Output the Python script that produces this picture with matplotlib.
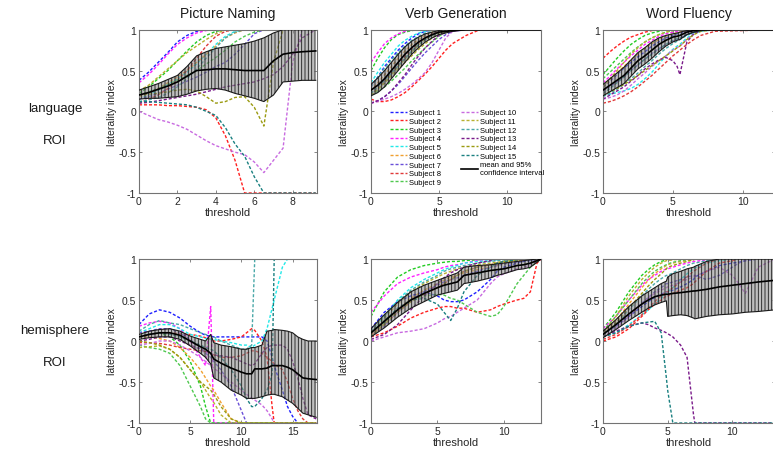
import matplotlib
matplotlib.use("Agg")
import matplotlib.pyplot as plt
from matplotlib.lines import Line2D

plt.rcParams['font.family'] = ['Liberation Sans', 'DejaVu Sans']
plt.rcParams['hatch.linewidth'] = 0.6

SUBJECT_LABELS = ["Subject %d" % i for i in range(1, 16)]
SUBJECT_COLORS = ["#1f1fff", "#ff2020", "#22cc22", "#ff22ff", "#22e8e8", "#f0a030",
                  "#6a4fd8", "#e03a3a", "#4fc84f", "#c86ae0", "#b8b030", "#4aa8a8",
                  "#7a1a8a", "#9a9a10", "#1a8080"]
TASKS = ["Picture Naming", "Verb Generation", "Word Fluency"]
ROWS = ["language\n\nROI", "hemisphere\n\nROI"]
Y_TICKS = [-1, -0.5, 0, 0.5, 1]
Y_TICKLABELS = ["-1", "-0.5", "0", "0.5", "1"]

# ---------------- Picture Naming, language ROI ----------------
PN_LANG_X = [0, .5, 1, 1.5, 2, 2.5, 3, 3.5, 4, 4.5, 5, 5.5, 6, 6.5, 7, 7.5, 8, 8.5, 9.2]
PN_LANG_SUBJ = [
    [.38, .48, .60, .72, .85, .93, .98, 1, 1, 1, 1, 1, 1, 1, 1, 1, 1, 1, 1],
    [.08, .08, .08, .07, .07, .06, .05, .02, -.08, -.30, -.60, -1, -1, -1, -1, -1, -1, -1, -1],
    [.22, .30, .40, .50, .62, .74, .85, .93, .98, 1, 1, 1, 1, 1, 1, 1, 1, 1, 1],
    [.35, .45, .57, .70, .82, .90, .96, .99, 1, 1, 1, 1, 1, 1, 1, 1, 1, 1, 1],
    [.15, .20, .26, .33, .40, .48, .58, .70, .82, .92, .98, 1, 1, 1, 1, 1, 1, 1, 1],
    [.18, .22, .28, .35, .42, .50, .60, .70, .80, .90, .96, 1, 1, 1, 1, 1, 1, 1, 1],
    [.15, .18, .22, .27, .32, .37, .42, .48, .55, .60, .70, .82, .95, 1, 1, 1, 1, 1, 1],
    [.10, .15, .20, .28, .38, .50, .65, .80, .92, .98, 1, 1, 1, 1, 1, 1, 1, 1, 1],
    [.20, .24, .28, .33, .38, .44, .50, .58, .66, .75, .85, .92, .97, 1, 1, 1, 1, 1, 1],
    [.00, -.05, -.10, -.13, -.17, -.22, -.29, -.36, -.42, -.46, -.50, -.53, -.62, -.75, -.60, -.45, .60, 1, 1],
    [.25, .32, .42, .52, .62, .72, .80, .88, .95, 1, 1, 1, 1, 1, 1, 1, 1, 1, 1],
    [.12, .14, .17, .22, .30, .40, .52, .65, .78, .90, .97, 1, 1, 1, 1, 1, 1, 1, 1],
    [.10, .11, .13, .15, .17, .19, .21, .24, .27, .30, .32, .34, .36, .40, .45, .55, .70, .90, 1],
    [.20, .21, .22, .24, .26, .27, .25, .18, .10, .12, .17, .18, .05, -.18, .60, 1, 1, 1, 1],
    [.12, .12, .11, .10, .09, .08, .05, .00, -.05, -.20, -.40, -.55, -.80, -1, -1, -1, -1, -1, -1],
]
PN_LANG_MEAN = [.20, .23, .27, .31, .36, .43, .50, .51, .52, .52, .51, .50, .50, .50, .62, .70, .72, .73, .74]
PN_LANG_HI = [.26, .30, .34, .39, .44, .55, .68, .73, .77, .79, .81, .83, .86, .90, .96, 1, 1, 1, 1]
PN_LANG_LO = [.15, .16, .16, .17, .18, .21, .25, .27, .28, .26, .22, .19, .16, .12, .20, .36, .37, .38, .38]

# ---------------- Picture Naming, hemisphere ROI ----------------
PN_HEMI_X = [0, 1, 2, 3, 4, 5, 6, 6.5, 7, 7.3, 8, 9, 10, 10.5, 11, 11.3, 12, 12.5, 13, 13.2,
             14, 14.5, 15, 15.5, 16, 16.5, 17.3]
PN_HEMI_SUBJ = [
    [.20, .33, .38, .35, .28, .18, .10, .07, .06, .05, .05, .05, .05, .05, .05, .05, .05, .00, -.20, -.30, -.60, -.80, -.92, -1, -1, -1, -1],
    [.05, .08, .10, .10, .09, .08, .06, .04, .02, .00, .00, .02, .05, .10, .15, .13, .00, -.20, -.80, -1, -1, -1, -1, -1, -1, -1, -1],
    [.05, .08, .10, .05, -.05, -.25, -.55, -.80, -1, -1, -1, -1, -1, -1, -1, -1, -1, -1, -1, -1, -1, -1, -1, -1, -1, -1, -1],
    [.18, .22, .24, .22, .15, .00, -.20, -.30, .42, -1, -1, -1, -1, -1, -1, -1, -1, -1, -1, -1, -1, -1, -1, -1, -1, -1, -1],
    [.10, .15, .20, .20, .15, .08, .05, .03, .02, .02, .00, -.02, -.05, -.05, -.08, -.05, .00, .15, .40, .50, .90, 1, 1, 1, 1, 1, 1],
    [.05, .05, .03, .00, -.08, -.20, -.35, -.45, -.55, -.60, -.75, -.95, -1, -1, -1, -1, -1, -1, -1, -1, -1, -1, -1, -1, -1, -1, -1],
    [.10, .12, .15, .15, .10, .02, -.10, -.15, -.20, -.25, -.35, -.55, -.85, -1, -1, -1, -1, -1, -1, -1, -1, -1, -1, -1, -1, -1, -1],
    [-.02, -.02, -.03, -.05, -.08, -.10, -.12, -.13, -.15, -.17, -.20, -.20, -.18, -.15, -.12, -.12, -.15, -.20, -.25, -.28, -.35, -.50, -.70, -.85, -.95, -1, -1],
    [-.05, -.08, -.10, -.15, -.30, -.55, -.80, -.95, -1, -1, -1, -1, -1, -1, -1, -1, -1, -1, -1, -1, -1, -1, -1, -1, -1, -1, -1],
    [-.05, -.03, .00, .00, -.05, -.12, -.20, -.25, -.30, -.33, -.40, -.50, -.60, -.65, -.70, -.72, -.78, -.85, -.95, -1, -1, -1, -1, -1, -1, -1, -1],
    [-.08, -.07, -.06, -.10, -.20, -.35, -.50, -.60, -.70, -.75, -.90, -1, -1, -1, -1, -1, -1, -1, -1, -1, -1, -1, -1, -1, -1, -1, -1],
    [.12, .20, .25, .22, .20, .15, .10, .08, .06, .05, .00, -.05, -.10, -.10, -.05, 1, 1, 1, 1, 1, 1, 1, 1, 1, 1, 1, 1],
    [.00, .02, .05, .05, .00, -.05, -.10, -.12, -.15, -.17, -.18, -.20, -.25, -.28, -.30, -.28, -.15, -.08, -.05, -.05, -.05, -.10, -.25, -.45, -.70, -.90, -.95],
    [.00, -.02, -.05, -.10, -.20, -.35, -.50, -.55, -.60, -.65, -.80, -.95, -1, -1, -1, -1, -1, -1, -1, -1, -1, -1, -1, -1, -1, -1, -1],
    [.05, .08, .10, .08, .05, .00, -.05, -.08, -.10, -.12, -.20, -.35, -.55, -.70, -.80, -.80, -.70, -.60, -.40, 1, 1, 1, 1, 1, 1, 1, 1],
]
PN_HEMI_MEAN = [.05, .08, .10, .10, .07, .00, -.07, -.10, -.15, -.22, -.27, -.33, -.38, -.40, -.40, -.34, -.34, -.33, -.30, -.30, -.30, -.32, -.35, -.40, -.45, -.46, -.47]
PN_HEMI_HI = [.08, .12, .14, .15, .12, .06, .02, .00, .08, -.02, -.05, -.07, -.10, -.10, -.08, -.08, -.05, .12, .13, .14, .13, .12, .10, .05, .02, .00, .00]
PN_HEMI_LO = [.02, .04, .05, .05, .02, -.06, -.15, -.20, -.28, -.45, -.50, -.60, -.66, -.70, -.70, -.70, -.68, -.66, -.65, -.65, -.68, -.72, -.76, -.82, -.88, -.90, -.93]

# ---------------- Verb Generation, language ROI ----------------
VG_LANG_X = [0, .5, 1, 1.5, 2, 2.5, 3, 3.5, 4, 4.5, 5, 5.5, 6, 7, 8, 12.5]
VG_LANG_SUBJ = [
    [.30, .42, .55, .65, .75, .83, .90, .95, .98, 1, 1, 1, 1, 1, 1, 1],
    [.15, .12, .12, .14, .18, .23, .30, .38, .46, .55, .65, .75, .83, .93, 1, 1],
    [.50, .65, .78, .88, .94, .97, .99, 1, 1, 1, 1, 1, 1, 1, 1, 1],
    [.60, .72, .83, .90, .95, .98, 1, 1, 1, 1, 1, 1, 1, 1, 1, 1],
    [.35, .48, .60, .70, .80, .87, .92, .96, .98, 1, 1, 1, 1, 1, 1, 1],
    [.25, .35, .45, .55, .65, .74, .82, .88, .93, .97, 1, 1, 1, 1, 1, 1],
    [.10, .13, .18, .25, .33, .43, .53, .63, .72, .80, .88, .94, .98, 1, 1, 1],
    [.20, .28, .37, .47, .57, .67, .76, .84, .90, .95, .98, 1, 1, 1, 1, 1],
    [.20, .25, .30, .37, .45, .53, .62, .70, .78, .85, .92, .97, 1, 1, 1, 1],
    [.10, .12, .15, .18, .22, .27, .33, .40, .48, .60, .75, .90, .98, 1, 1, 1],
    [.20, .27, .35, .43, .52, .60, .68, .76, .83, .90, .95, .98, 1, 1, 1, 1],
    [.30, .42, .53, .63, .72, .80, .87, .92, .96, .98, 1, 1, 1, 1, 1, 1],
    [.10, .13, .18, .25, .35, .45, .57, .68, .78, .86, .93, .97, 1, 1, 1, 1],
    [.20, .27, .35, .45, .55, .64, .73, .81, .88, .93, .97, 1, 1, 1, 1, 1],
    [.22, .30, .38, .47, .56, .65, .74, .82, .88, .93, .97, 1, 1, 1, 1, 1],
]
VG_LANG_MEAN = [.26, .32, .40, .50, .60, .70, .78, .85, .90, .94, .97, .98, .99, 1, 1, 1]
VG_LANG_HI = [.33, .41, .50, .60, .70, .79, .86, .91, .95, .97, .99, 1, 1, 1, 1, 1]
VG_LANG_LO = [.19, .23, .30, .40, .50, .60, .70, .78, .85, .90, .94, .96, .98, 1, 1, 1]

# ---------------- Verb Generation, hemisphere ROI ----------------
VG_HEMI_X = [0, 1, 2, 3, 4, 5, 5.5, 6, 6.5, 7, 8, 9, 9.5, 10, 11, 11.5, 12, 12.5, 12.8]
VG_HEMI_SUBJ = [
    [.15, .35, .48, .55, .60, .55, .50, .48, .48, .50, .60, .75, .85, .90, .95, .97, .98, 1, 1],
    [.05, .10, .18, .28, .35, .40, .42, .42, .40, .40, .35, .38, .42, .45, .50, .52, .60, .95, 1],
    [.30, .60, .78, .87, .92, .95, .96, .97, .97, .98, .99, 1, 1, 1, 1, 1, 1, 1, 1],
    [.35, .55, .70, .78, .83, .87, .90, .92, .93, .95, .98, 1, 1, 1, 1, 1, 1, 1, 1],
    [.10, .30, .50, .65, .75, .83, .87, .90, .92, .95, .97, .98, .99, 1, 1, 1, 1, 1, 1],
    [.08, .22, .38, .52, .62, .70, .74, .78, .80, .83, .87, .90, .92, .95, .98, 1, 1, 1, 1],
    [.05, .18, .35, .50, .60, .68, .72, .75, .77, .80, .85, .90, .92, .94, .96, .98, .99, 1, 1],
    [.08, .20, .35, .48, .57, .65, .70, .75, .80, .85, .90, .93, .95, .97, .98, .99, 1, 1, 1],
    [.10, .22, .38, .50, .55, .57, .56, .52, .50, .45, .35, .30, .32, .42, .70, .80, .90, .97, 1],
    [.00, .05, .10, .12, .15, .22, .27, .30, .35, .40, .50, .70, .78, .82, .88, .90, .93, .97, 1],
    [.10, .28, .45, .60, .70, .78, .82, .85, .88, .90, .93, .95, .96, .97, .99, 1, 1, 1, 1],
    [.12, .30, .48, .62, .72, .80, .85, .88, .90, .92, .95, .97, .98, .99, 1, 1, 1, 1, 1],
    [.02, .08, .20, .38, .55, .70, .77, .83, .87, .90, .95, .98, 1, 1, 1, 1, 1, 1, 1],
    [.06, .20, .35, .48, .58, .65, .70, .75, .80, .85, .90, .93, .95, .96, .98, 1, 1, 1, 1],
    [.10, .25, .40, .50, .52, .45, .35, .25, .40, .60, .80, .90, .95, .97, .99, 1, 1, 1, 1],
]
VG_HEMI_MEAN = [.10, .24, .38, .50, .58, .65, .68, .70, .72, .80, .83, .86, .87, .88, .92, .93, .95, .98, 1]
VG_HEMI_HI = [.15, .32, .47, .60, .68, .74, .77, .80, .83, .90, .92, .93, .94, .95, .97, .98, .99, 1, 1]
VG_HEMI_LO = [.05, .16, .29, .40, .48, .56, .58, .60, .62, .70, .73, .77, .80, .82, .87, .88, .90, .96, 1]

# ---------------- Word Fluency, language ROI ----------------
WF_LANG_X = [0, .5, 1, 1.5, 2, 2.5, 3, 3.5, 4, 4.5, 5, 5.3, 5.5, 6, 6.5, 7, 8, 12.3]
WF_LANG_SUBJ = [
    [.30, .37, .45, .53, .60, .67, .73, .80, .85, .90, .93, .95, .96, .98, .99, 1, 1, 1],
    [.65, .73, .80, .86, .91, .94, .97, .99, 1, 1, 1, 1, 1, 1, 1, 1, 1, 1],
    [.45, .55, .65, .74, .82, .88, .93, .96, .98, 1, 1, 1, 1, 1, 1, 1, 1, 1],
    [.35, .43, .52, .60, .68, .75, .82, .87, .92, .95, .97, .98, .99, 1, 1, 1, 1, 1],
    [.20, .21, .23, .25, .28, .33, .40, .48, .58, .68, .76, .80, .82, .90, .95, .98, 1, 1],
    [.30, .38, .47, .55, .63, .70, .77, .83, .88, .92, .95, .96, .97, .99, 1, 1, 1, 1],
    [.25, .30, .36, .42, .50, .57, .64, .71, .77, .82, .86, .88, .90, .94, .97, .99, 1, 1],
    [.10, .12, .15, .19, .24, .30, .37, .44, .52, .60, .68, .72, .75, .82, .88, .93, .98, 1],
    [.40, .48, .56, .64, .72, .79, .85, .90, .94, .97, .99, 1, 1, 1, 1, 1, 1, 1],
    [.15, .17, .20, .25, .32, .40, .47, .55, .62, .68, .75, .78, .80, .88, .95, .99, 1, 1],
    [.30, .40, .50, .60, .70, .78, .85, .90, .94, .97, .99, 1, 1, 1, 1, 1, 1, 1],
    [.18, .22, .27, .33, .40, .47, .55, .62, .70, .77, .83, .86, .88, .93, .97, .99, 1, 1],
    [.15, .20, .25, .30, .37, .44, .52, .58, .63, .66, .62, .55, .45, .85, .95, .99, 1, 1],
    [.20, .24, .28, .33, .38, .44, .50, .56, .62, .68, .74, .78, .80, .88, .94, .98, 1, 1],
    [.22, .28, .35, .42, .50, .57, .64, .70, .76, .82, .87, .89, .90, .94, .97, .99, 1, 1],
]
WF_LANG_MEAN = [.26, .32, .38, .44, .53, .62, .68, .75, .82, .87, .91, .92, .93, .97, .99, 1, 1, 1]
WF_LANG_HI = [.33, .40, .47, .54, .63, .72, .78, .85, .90, .93, .95, .96, .97, .99, 1, 1, 1, 1]
WF_LANG_LO = [.19, .24, .29, .34, .43, .52, .58, .65, .73, .80, .85, .87, .88, .94, .97, .99, 1, 1]

# ---------------- Word Fluency, hemisphere ROI ----------------
WF_HEMI_X = [0, 1, 2, 3, 3.5, 4, 4.5, 4.9, 5, 5.4, 6, 6.5, 7, 7.1, 8, 9, 10, 10.5, 11, 12, 13.3]
WF_HEMI_SUBJ = [
    [.10, .18, .30, .42, .48, .53, .57, .60, .60, .62, .66, .70, .75, .78, .85, .92, .95, .96, .98, 1, 1],
    [.00, .05, .15, .30, .38, .45, .50, .55, .55, .58, .62, .65, .70, .72, .85, .95, .98, 1, 1, 1, 1],
    [.15, .35, .60, .80, .87, .93, .97, .99, 1, 1, 1, 1, 1, 1, 1, 1, 1, 1, 1, 1, 1],
    [.15, .30, .50, .68, .75, .80, .85, .88, .88, .90, .93, .95, .97, .97, .99, 1, 1, 1, 1, 1, 1],
    [.05, .10, .20, .32, .38, .45, .52, .58, .60, .65, .75, .82, .88, .89, .95, .98, 1, 1, 1, 1, 1],
    [.10, .25, .45, .65, .74, .82, .88, .92, .93, .95, .97, .98, .99, 1, 1, 1, 1, 1, 1, 1, 1],
    [.08, .18, .32, .46, .53, .60, .65, .70, .70, .72, .75, .78, .80, .80, .75, .80, .90, .95, .98, 1, 1],
    [.02, .08, .18, .32, .40, .48, .55, .60, .60, .65, .72, .78, .85, .86, .95, 1, 1, 1, 1, 1, 1],
    [.12, .30, .50, .70, .78, .85, .90, .93, .94, .96, .98, .99, 1, 1, 1, 1, 1, 1, 1, 1, 1],
    [.05, .15, .30, .45, .52, .58, .62, .65, .66, .68, .72, .75, .78, .79, .85, .90, .80, .70, .58, .90, 1],
    [.10, .30, .55, .75, .83, .90, .95, .98, .98, .99, 1, 1, 1, 1, 1, 1, 1, 1, 1, 1, 1],
    [.08, .20, .38, .55, .63, .70, .76, .80, .80, .83, .88, .92, .95, .95, .98, 1, 1, 1, 1, 1, 1],
    [.05, .12, .18, .22, .20, .16, .13, .10, .09, .05, -.05, -.20, -.90, -1, -1, -1, -1, -1, -1, -1, -1],
    [.08, .22, .40, .58, .67, .75, .82, .88, .90, .92, .95, .97, .99, 1, 1, 1, 1, 1, 1, 1, 1],
    [.05, .10, .18, .22, .23, .24, .10, -.45, -.60, -1, -1, -1, -1, -1, -1, -1, -1, -1, -1, -1, -1],
]
WF_HEMI_MEAN = [.08, .20, .33, .45, .50, .54, .56, .57, .57, .58, .59, .60, .61, .61, .63, .66, .68, .69, .70, .72, .74]
WF_HEMI_HI = [.12, .26, .42, .55, .60, .65, .70, .73, .78, .82, .85, .88, .90, .91, .97, 1, 1, 1, 1, 1, 1]
WF_HEMI_LO = [.04, .14, .25, .35, .40, .44, .47, .49, .30, .31, .32, .31, .28, .27, .30, .32, .33, .34, .35, .36, .38]

PANELS = [
    [(PN_LANG_X, PN_LANG_SUBJ, PN_LANG_MEAN, PN_LANG_HI, PN_LANG_LO, 9.25, [0, 2, 4, 6, 8]),
     (VG_LANG_X, VG_LANG_SUBJ, VG_LANG_MEAN, VG_LANG_HI, VG_LANG_LO, 12.5, [0, 5, 10]),
     (WF_LANG_X, WF_LANG_SUBJ, WF_LANG_MEAN, WF_LANG_HI, WF_LANG_LO, 12.3, [0, 5, 10])],
    [(PN_HEMI_X, PN_HEMI_SUBJ, PN_HEMI_MEAN, PN_HEMI_HI, PN_HEMI_LO, 17.35, [0, 5, 10, 15]),
     (VG_HEMI_X, VG_HEMI_SUBJ, VG_HEMI_MEAN, VG_HEMI_HI, VG_HEMI_LO, 12.8, [0, 5, 10]),
     (WF_HEMI_X, WF_HEMI_SUBJ, WF_HEMI_MEAN, WF_HEMI_HI, WF_HEMI_LO, 13.3, [0, 5, 10])],
]

W, H = 773, 452
fig = plt.figure(figsize=(W / 100, H / 100), dpi=100)

col_left = [139, 371, 603]
col_width = [177.7, 170, 172]
row_top = [30.7, 260]
row_height = [163.3, 164]
spine_c = '0.45'

axes = []
for r in range(2):
    for c in range(3):
        X, SUBJ, MEAN, HI, LO, xmax, xt = PANELS[r][c]
        ax = fig.add_axes([col_left[c] / W, 1 - (row_top[r] + row_height[r]) / H,
                           col_width[c] / W, row_height[r] / H])
        axes.append(ax)
        for s, ys in enumerate(SUBJ):
            assert len(ys) == len(X), (r, c, s, len(ys), len(X))
            ax.plot(X, ys, color=SUBJECT_COLORS[s], lw=1.0, ls=(0, (2.2, 1.4)), zorder=2)
        ax.fill_between(X, LO, HI, facecolor=(0.55, 0.55, 0.55, 0.55), edgecolor='0.1',
                        hatch='|||||', linewidth=0, zorder=3)
        ax.plot(X, HI, color='0.1', lw=0.8, zorder=4)
        ax.plot(X, LO, color='0.1', lw=0.8, zorder=4)
        ax.plot(X, MEAN, color='black', lw=1.2, zorder=5)
        ax.set_xlim(0, xmax)
        ax.set_ylim(-1, 1)
        ax.set_xticks(xt)
        ax.set_yticks(Y_TICKS)
        ax.set_yticklabels(Y_TICKLABELS)
        ax.tick_params(direction='in', length=2.5, width=0.6, color=spine_c,
                       labelsize=7.5, labelcolor='0.15', pad=2, top=True, right=True)
        for sp in ax.spines.values():
            sp.set_color(spine_c)
            sp.set_linewidth(0.8)
        ax.set_xlabel('threshold', fontsize=8, color='0.15', labelpad=1)
        ax.set_ylabel('laterality index', fontsize=7.5, color='0.15', labelpad=1)

# titles
for c in range(3):
    cx = (col_left[c] + min(col_left[c] + col_width[c], 773 + 2)) / 2
    fig.text(cx / W, 1 - 14 / H, TASKS[c], ha='center', va='center', fontsize=10, color='0.1')

# row labels
fig.text(55 / W, 1 - 125 / H, ROWS[0], ha='center', va='center', fontsize=9.5,
         color='0.1', linespacing=1.4)
fig.text(55 / W, 1 - 347 / H, ROWS[1], ha='center', va='center', fontsize=9.5,
         color='0.1', linespacing=1.4)

# legends in the top Verb Generation panel
ax = axes[1]
h1 = [Line2D([], [], color=SUBJECT_COLORS[i], lw=1.0, ls=(0, (2.2, 1.4))) for i in range(9)]
leg1 = ax.legend(h1, SUBJECT_LABELS[:9], loc='upper left', bbox_to_anchor=(0.11, 0.515),
                 frameon=False, fontsize=5.5, handlelength=2.2, handletextpad=0.3,
                 labelspacing=0.18, borderpad=0, borderaxespad=0)
ax.add_artist(leg1)
h2 = [Line2D([], [], color=SUBJECT_COLORS[i], lw=1.0, ls=(0, (2.2, 1.4))) for i in range(9, 15)]
h2.append(Line2D([], [], color='black', lw=1.2))
leg2 = ax.legend(h2, SUBJECT_LABELS[9:] + ["mean and 95%\nconfidence interval"], loc='upper left',
                 bbox_to_anchor=(0.53, 0.515), frameon=False, fontsize=5.5, handlelength=2.2,
                 handletextpad=0.3, labelspacing=0.18, borderpad=0, borderaxespad=0)

fig.savefig('out.png', dpi=100)
